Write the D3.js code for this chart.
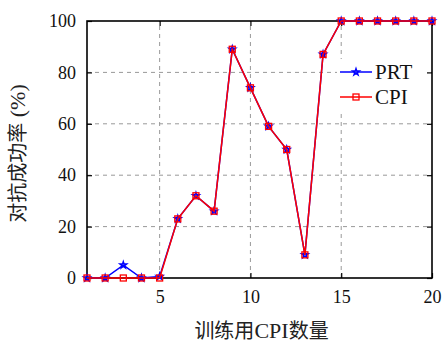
<!DOCTYPE html>
<html>
<head>
<meta charset="utf-8">
<script src="https://cdn.jsdelivr.net/npm/d3@7"></script>
<style>
  html, body { margin: 0; padding: 0; background: #fff; }
  svg { display: block; }
</style>
</head>
<body>
<svg id="chart" width="442" height="343"></svg>
<script>
// Number of CPIs used in training (x) and attack success rate in % (y)
const cpiCounts = d3.range(1, 21);
const prtRate = [0, 0, 5, 0, 0.6, 23, 32, 26, 89, 74, 59, 50, 9, 87, 100, 100, 100, 100, 100, 100];
const cpiRate = [0, 0, 0, 0, 0, 23, 32, 26, 89, 74, 59, 50, 9, 87, 100, 100, 100, 100, 100, 100];
const xTicks = [5, 10, 15, 20];
const yTicks = [0, 20, 40, 60, 80, 100];
const seriesNames = ["PRT", "CPI"];

const svg = d3.select("#chart");
const m = { left: 87, right: 10, top: 21, bottom: 65 };
const W = 442, H = 343;
const x = d3.scaleLinear().domain([1, 20]).range([m.left, W - m.right]);
const y = d3.scaleLinear().domain([0, 100]).range([H - m.bottom, m.top]);
const serif = "'Liberation Serif', 'DejaVu Serif', serif";
const cjk = "'Noto Sans CJK SC', sans-serif";

// dashed grid
const grid = svg.append("g").attr("stroke", "#999").attr("stroke-width", 1)
  .attr("stroke-dasharray", "4,4");
grid.selectAll("line.v").data(xTicks.filter(d => d < 20)).join("line")
  .attr("x1", d => x(d)).attr("x2", d => x(d))
  .attr("y1", y(0)).attr("y2", y(100));
grid.selectAll("line.h").data(yTicks.filter(d => d > 0 && d < 100)).join("line")
  .attr("x1", x(1)).attr("x2", x(20))
  .attr("y1", d => y(d)).attr("y2", d => y(d));

// axes with inward ticks on all four sides
const tickLen = 5;
const axB = d3.axisBottom(x).tickValues(xTicks).tickSizeInner(-tickLen).tickSizeOuter(0).tickPadding(12);
const axT = d3.axisTop(x).tickValues(xTicks).tickSizeInner(-tickLen).tickSizeOuter(0).tickFormat("");
const axL = d3.axisLeft(y).tickValues(yTicks).tickSizeInner(-tickLen).tickSizeOuter(0).tickPadding(11);
const axR = d3.axisRight(y).tickValues(yTicks).tickSizeInner(-tickLen).tickSizeOuter(0).tickFormat("");

function styleAxis(g) {
  g.select(".domain").remove();
  g.selectAll(".tick line").attr("stroke", "#000").attr("stroke-width", 1.2);
  g.selectAll(".tick text").attr("fill", "#111").attr("font-family", serif).attr("font-size", 18);
}
svg.append("g").attr("transform", `translate(0,${y(0)})`).call(axB).call(styleAxis);
svg.append("g").attr("transform", `translate(0,${y(100)})`).call(axT).call(styleAxis);
svg.append("g").attr("transform", `translate(${x(1)},0)`).call(axL).call(styleAxis);
svg.append("g").attr("transform", `translate(${x(20)},0)`).call(axR).call(styleAxis);

// frame
svg.append("rect").attr("x", x(1)).attr("y", y(100))
  .attr("width", x(20) - x(1)).attr("height", y(0) - y(100))
  .attr("fill", "none").attr("stroke", "#000").attr("stroke-width", 1.6);

// series
const line = d3.line().x((d, i) => x(cpiCounts[i])).y(d => y(d));
const starPath = d3.symbol(d3.symbolStar, 14)();

function drawSeries(values, color, marker) {
  const g = svg.append("g");
  g.append("path").datum(values).attr("d", line)
    .attr("fill", "none").attr("stroke", color).attr("stroke-width", 1.5);
  g.selectAll("g.pt").data(values).join("g")
    .attr("transform", (d, i) => `translate(${x(cpiCounts[i])},${y(d)})`)
    .each(function () { marker(d3.select(this)); });
}
const starMarker = s => s.append("path").attr("d", starPath)
  .attr("fill", "none").attr("stroke", "blue").attr("stroke-width", 1.4);
const squareMarker = s => s.append("rect").attr("x", -3).attr("y", -3)
  .attr("width", 6).attr("height", 6)
  .attr("fill", "none").attr("stroke", "red").attr("stroke-width", 1.3);

drawSeries(prtRate, "blue", starMarker);
drawSeries(cpiRate, "red", squareMarker);

// legend
const lg = svg.append("g");
lg.append("rect").attr("x", 337).attr("y", 59).attr("width", 90).attr("height", 51).attr("fill", "#fff");
const legendItems = [
  { name: seriesNames[0], color: "blue", marker: starMarker },
  { name: seriesNames[1], color: "red", marker: squareMarker }
];
legendItems.forEach((it, i) => {
  const ly = 72 + i * 25;
  lg.append("line").attr("x1", 340).attr("x2", 372).attr("y1", ly).attr("y2", ly)
    .attr("stroke", it.color).attr("stroke-width", 1.5);
  it.marker(lg.append("g").attr("transform", `translate(356,${ly})`));
  lg.append("text").attr("x", 375).attr("y", ly + 7).text(it.name)
    .attr("font-family", serif).attr("font-size", 21).attr("fill", "#111");
});

// axis titles: CJK glyphs in Noto Sans CJK, Latin parts in serif
function mixedTitle(sel, parts) {
  parts.forEach(p => sel.append("tspan")
    .attr("font-family", p.latin ? serif : cjk)
    .attr("font-size", p.latin ? 22 : 20)
    .text(p.t));
}
const xt = svg.append("text").attr("x", (x(1) + x(20)) / 2 + 2).attr("y", 338)
  .attr("text-anchor", "middle").attr("fill", "#222");
mixedTitle(xt, [{ t: "训练用" }, { t: "CPI", latin: true }, { t: "数量" }]);
const yt = svg.append("text").attr("transform", `translate(25,${(y(0) + y(100)) / 2 + 4}) rotate(-90)`)
  .attr("text-anchor", "middle").attr("fill", "#222");
mixedTitle(yt, [{ t: "对抗成功率" }, { t: " (%)", latin: true }]);
</script>
</body>
</html>
